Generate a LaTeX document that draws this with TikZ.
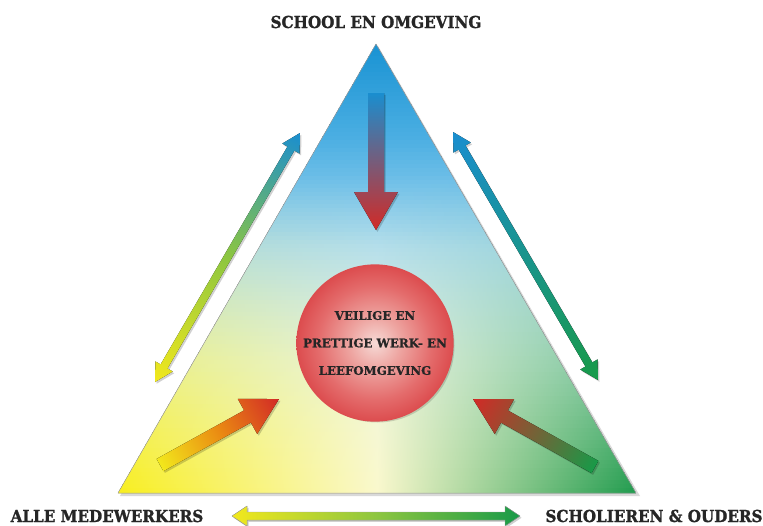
\documentclass[tikz,border=0pt]{standalone}
\usepackage{fontspec}
\newfontfamily\slabT{DejaVu Serif}[FakeStretch=0.92, BoldFeatures={FakeBold=1.3}]
\newfontfamily\slab{DejaVu Serif}[BoldFeatures={FakeBold=1.0}]
\usetikzlibrary{calc}

\definecolor{tb1}{HTML}{1A93D3}
\definecolor{tb2}{HTML}{4AAEE2}
\definecolor{tb3}{HTML}{A6D9F1}
\definecolor{tb4}{HTML}{D6EFF2}
\definecolor{tb5}{HTML}{EEF8EA}
\definecolor{ty1}{HTML}{F8EE1C}
\definecolor{ty3}{HTML}{FAF8CC}
\definecolor{tg1}{HTML}{1E9A4C}
\definecolor{ball1}{HTML}{F6DAD6}
\definecolor{ball2}{HTML}{EEA6A2}
\definecolor{ball3}{HTML}{E46C6C}
\definecolor{ball4}{HTML}{DC4C4E}
\definecolor{ablue}{HTML}{1A8ECF}
\definecolor{ared}{HTML}{D22A26}
\definecolor{ayellow}{HTML}{F2E81C}
\definecolor{agreen}{HTML}{189A48}
\definecolor{alime}{HTML}{8DC640}
\definecolor{aorange}{HTML}{EA8A12}
\definecolor{txt}{HTML}{262626}

\pgfdeclareradialshading{ball}{\pgfpoint{0bp}{0bp}}{color(0bp)=(ball1); color(8bp)=(ball2); color(18bp)=(ball3); color(25bp)=(ball4); color(50bp)=(ball4)}

\newcommand\arrowgeom[2]{%
  \pgfpointdiff{\pgfpointanchor{#1}{center}}{\pgfpointanchor{#2}{center}}%
  \pgfgetlastxy{\gadx}{\gady}%
  \pgfmathsetmacro\gaang{atan2(\gady,\gadx)}%
  \pgfmathsetmacro\galen{veclen(\gadx,\gady)}%
}
% single arrow: tail, tip, shaft half width, head half width, head length, fill options
\newcommand\sarrow[6]{%
  \arrowgeom{#1}{#2}%
  \begin{scope}[transform canvas={shift={($(#1)+(1.5pt,-1.8pt)$)}, rotate=\gaang}]
    \fill[arrowshadow] (0pt,#3) -- ({\galen pt-#5},#3) -- ({\galen pt-#5},#4) -- ({\galen pt},0pt) -- ({\galen pt-#5},-#4) -- ({\galen pt-#5},-#3) -- (0pt,-#3) -- cycle;
  \end{scope}
  \begin{scope}[transform canvas={shift={(#1)}, rotate=\gaang}]
    \fill[#6] (0pt,#3) -- ({\galen pt-#5},#3) -- ({\galen pt-#5},#4) -- ({\galen pt},0pt) -- ({\galen pt-#5},-#4) -- ({\galen pt-#5},-#3) -- (0pt,-#3) -- cycle;
  \end{scope}
}
% double arrow
\newcommand\darrow[6]{%
  \arrowgeom{#1}{#2}%
  \begin{scope}[transform canvas={shift={($(#1)+(1.5pt,-1.8pt)$)}, rotate=\gaang}]
    \fill[arrowshadow] (0pt,0pt) -- (#5,#4) -- (#5,#3) -- ({\galen pt-#5},#3) -- ({\galen pt-#5},#4) -- ({\galen pt},0pt) -- ({\galen pt-#5},-#4) -- ({\galen pt-#5},-#3) -- (#5,-#3) -- (#5,-#4) -- cycle;
  \end{scope}
  \begin{scope}[transform canvas={shift={(#1)}, rotate=\gaang}]
    \fill[#6] (0pt,0pt) -- (#5,#4) -- (#5,#3) -- ({\galen pt-#5},#3) -- ({\galen pt-#5},#4) -- ({\galen pt},0pt) -- ({\galen pt-#5},-#4) -- ({\galen pt-#5},-#3) -- (#5,-#3) -- (#5,-#4) -- cycle;
  \end{scope}
}

\tikzset{
  arrowshadow/.style={black, opacity=0.18},
  lbl/.style={font=\slabT\bfseries\fontsize{16.5}{18}\selectfont, text=txt, inner sep=0pt},
  balltext/.style={font=\slab\bfseries\fontsize{11.8}{27.5}\selectfont, text=txt, align=center},
}

\begin{document}
\begin{tikzpicture}[x=1pt,y=-1pt]
\useasboundingbox[fill=white] (0,0) rectangle (763,525);

% triangle corners
\coordinate (A) at (376,44);
\coordinate (B) at (118,493);
\coordinate (C) at (636,493);

% triangle shadow
\fill[black, opacity=0.15] ($(A)+(2,2)$) -- ($(B)+(2,3)$) -- ($(C)+(4,3)$) -- cycle;
\begin{scope}
  \clip (A) -- (B) -- (C) -- cycle;
  \foreach \y in {44,48,...,492} {
    \ifdim\y pt<134pt
      \pgfmathtruncatemacro\pb{100*(\y-44)/90}\colorlet{bl}{tb2!\pb!tb1}%
    \else\ifdim\y pt<246pt
      \pgfmathtruncatemacro\pb{100*(\y-134)/112}\colorlet{bl}{tb3!\pb!tb2}%
    \else\ifdim\y pt<358pt
      \pgfmathtruncatemacro\pb{100*(\y-246)/112}\colorlet{bl}{tb4!\pb!tb3}%
    \else
      \pgfmathtruncatemacro\pb{min(100,100*(\y-358)/135)}\colorlet{bl}{tb5!\pb!tb4}%
    \fi\fi\fi
    \ifdim\y pt<170pt
      \def\w{0}%
    \else
      \pgfmathtruncatemacro\w{min(100,100*((\y-170)/323)^1.15)}%
    \fi
    \colorlet{cl}{ty1!\w!bl}\colorlet{cm}{ty3!\w!bl}\colorlet{cr}{tg1!\w!bl}%
    \fill[left color=cl, right color=cr, middle color=cm] (118,\y) rectangle (636,\y+5);
  }
\end{scope}
\draw[black!35, line width=0.4pt] (A) -- (B) -- (C) -- cycle;

% labels
\node[lbl] (school) at (376,22) {SCHOOL EN OMGEVING};
\node[lbl] (mede) at (107,516) {ALLE MEDEWERKERS};
\node[lbl] (schol) at (654,516) {SCHOLIEREN \& OUDERS};

% central circle
\fill[black, opacity=0.15] (377.5,345.5) circle (77);
\node[circle, minimum size=154pt, inner sep=0pt, shading=ball, balltext] (goal) at (375,343)
  {VEILIGE EN\\PRETTIGE WERK- EN\\LEEFOMGEVING};

% arrow end points
\coordinate (t1) at (376,93);  \coordinate (t2) at (376,230);
\coordinate (l1) at (155,382); \coordinate (l2) at (300,133);
\coordinate (r1) at (453,132); \coordinate (r2) at (598,380);
\coordinate (ll1) at (160,465); \coordinate (ll2) at (279,399);
\coordinate (lr1) at (595,467); \coordinate (lr2) at (473,399);
\coordinate (b1) at (232,516); \coordinate (b2) at (520,516);

\sarrow{t1}{t2}{8pt}{22pt}{38pt}{left color=ablue, right color=ared}
\darrow{l1}{l2}{4pt}{10pt}{18pt}{left color=ayellow, right color=ablue, middle color=alime}
\darrow{r1}{r2}{4pt}{10pt}{18pt}{left color=ablue, right color=agreen}
\sarrow{ll1}{ll2}{7pt}{20pt}{36pt}{left color=ayellow, right color=ared, middle color=aorange}
\sarrow{lr1}{lr2}{7pt}{20pt}{36pt}{left color=agreen, right color=ared}
\darrow{b1}{b2}{4pt}{10pt}{15pt}{left color=ayellow, right color=agreen, middle color=alime, draw=black!35, line width=0.3pt}
\end{tikzpicture}
\end{document}
